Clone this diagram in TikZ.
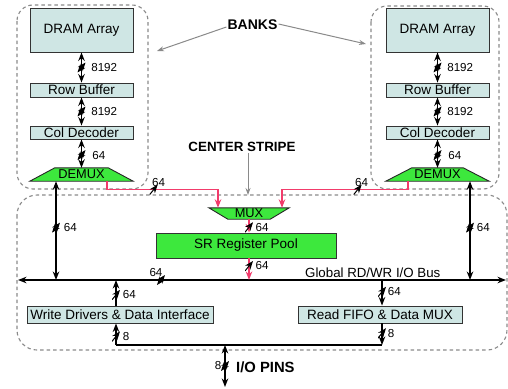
\documentclass[tikz,border=0pt]{standalone}
\usepackage{fontspec}
\setmainfont{Liberation Sans}
\usetikzlibrary{arrows.meta,backgrounds}
\definecolor{boxc}{HTML}{CFE6E4}
\definecolor{grn}{HTML}{3DE83D}
\definecolor{pnk}{HTML}{F23B6B}
\definecolor{dgray}{HTML}{8A8A8A}
\begin{document}
\begin{tikzpicture}[x=1pt,y=-1pt,
  lbox/.style={draw=black!80, line width=0.9pt, fill=boxc, inner sep=0pt, font=\fontsize{13.5}{15}\selectfont},
  gbox/.style={draw=black!80, line width=0.9pt, fill=grn, inner sep=0pt, font=\fontsize{13.5}{15}\selectfont},
  tnode/.style={inner sep=0pt, font=\fontsize{12.8}{14}\selectfont},
  trapfill/.style={draw=black!85, line width=0.9pt, fill=grn},
  bank/.style={draw=dgray, dash pattern=on 3.5pt off 3pt, line width=1.1pt, rounded corners=16pt},
  bw/.style={line width=1.6pt, draw=black},
  dbl/.style={bw, {Stealth[length=8.5pt,width=6.5pt]}-{Stealth[length=8.5pt,width=6.5pt]}},
  one/.style={bw, -{Stealth[length=8.5pt,width=6.5pt]}},
  rarr/.style={draw=pnk, line width=1.4pt, -{Stealth[length=8.5pt,width=6.5pt]}},
  garr/.style={draw=dgray, line width=1pt, -{Stealth[length=7pt,width=5pt]}},
  slsh/.style={inner sep=0pt, minimum width=8pt, minimum height=10pt,
    path picture={\draw[line width=1pt, black] (path picture bounding box.south west) -- (path picture bounding box.north east);}},
  num/.style={font=\fontsize{11.6}{13}\selectfont, inner sep=0pt, anchor=west, text=black},
  big/.style={font=\bfseries\fontsize{14}{16}\selectfont, inner sep=1pt}
]
\useasboundingbox (0,0) rectangle (508,388);

% dashed regions
\draw[bank] (17,5) rectangle (148,189);
\draw[bank] (371,6) rectangle (499,189);
\draw[bank, rounded corners=20pt] (17,195) rectangle (507,350);

% left bank
\node[lbox, minimum width=103pt, minimum height=44pt] (dramL) at (81.5,30) {DRAM Array};
\node[lbox, minimum width=103pt, minimum height=14pt] (rbL) at (81.5,90) {Row Buffer};
\node[lbox, minimum width=103pt, minimum height=13pt] (cdL) at (81.5,132.5) {Col Decoder};
\node[tnode, minimum width=103pt, minimum height=13pt] (dmL) at (81.5,174.5) {DEMUX};

% right bank
\node[lbox, minimum width=103pt, minimum height=44pt] (dramR) at (437.5,30) {DRAM Array};
\node[lbox, minimum width=103pt, minimum height=14pt] (rbR) at (437.5,90) {Row Buffer};
\node[lbox, minimum width=103pt, minimum height=13pt] (cdR) at (437.5,132.5) {Col Decoder};
\node[tnode, minimum width=103pt, minimum height=13pt] (dmR) at (437.5,174.5) {DEMUX};

% center
\node[tnode, minimum width=80pt, minimum height=11pt] (mux) at (249,213.5) {MUX};
\node[gbox, minimum width=180pt, minimum height=25pt] (sr) at (246,245.5) {SR Register Pool};
\node[lbox, minimum width=186pt, minimum height=17pt] (wd) at (120,314.5) {Write Drivers \& Data Interface};
\node[lbox, minimum width=164pt, minimum height=17pt] (rf) at (380,314.5) {Read FIFO \& Data MUX};

\begin{scope}[on background layer]
  \draw[trapfill] (dmL.south west) -- (dmL.south east) -- ([xshift=-25pt]dmL.north east) -- ([xshift=25pt]dmL.north west) -- cycle;
  \draw[trapfill] (dmR.south west) -- (dmR.south east) -- ([xshift=-26pt]dmR.north east) -- ([xshift=26pt]dmR.north west) -- cycle;
  \draw[trapfill] (mux.north west) -- (mux.north east) -- ([xshift=-19pt]mux.south east) -- ([xshift=19pt]mux.south west) -- cycle;
\end{scope}

% labels
\node[big] (bk) at (252.5,25) {BANKS};
\node[big, font=\bfseries\fontsize{13.4}{15}\selectfont] (cs) at (242,147) {CENTER STRIPE};
\node[big, font=\bfseries\fontsize{14.8}{16}\selectfont, anchor=west] (pins) at (235,367) {I/O PINS};

\coordinate (bkL) at (157,51);
\coordinate (bkR) at (366,44);
\coordinate (csT) at (248,195);
\draw[garr] ([yshift=-2pt]bk.west) -- (bkL);
\draw[garr] ([yshift=1pt]bk.east) -- (bkR);
\draw[garr] (cs.south -| csT) -- (csT);

% bank internal arrows
\draw[dbl] (dramL) -- (rbL) node[slsh,pos=.5]{} node[num,pos=.5,xshift=9pt]{8192};
\draw[dbl] (rbL) -- (cdL) node[slsh,pos=.5]{} node[num,pos=.5,xshift=9pt]{8192};
\draw[dbl] (cdL) -- (dmL) node[slsh,pos=.55]{} node[num,pos=.55,xshift=10pt]{64};
\draw[dbl] (dramR) -- (rbR) node[slsh,pos=.5]{} node[num,pos=.5,xshift=9pt]{8192};
\draw[dbl] (rbR) -- (cdR) node[slsh,pos=.5]{} node[num,pos=.5,xshift=9pt]{8192};
\draw[dbl] (cdR) -- (dmR) node[slsh,pos=.55]{} node[num,pos=.55,xshift=10pt]{64};

% global bus
\coordinate (busL) at (18,280);
\coordinate (busR) at (506,280);
\draw[dbl] (busL) -- (busR)
  node[slsh,pos=.293]{} node[num,pos=.293,anchor=south,xshift=-5pt,yshift=3pt]{64}
  node[pos=.727,anchor=south,yshift=1.5pt,inner sep=0pt,font=\fontsize{13.3}{15}\selectfont]{Global RD/WR I/O Bus};

% red paths
\draw[rarr] ([xshift=25.5pt]dmL.south) -- ++(0,8.5) -| ([xshift=-31pt]mux.north)
  node[slsh,pos=.21]{} node[num,pos=.21,anchor=south,xshift=5pt,yshift=2pt]{64};
\draw[rarr] ([xshift=-29.5pt]dmR.south) -- ++(0,8.5) -| ([xshift=33pt]mux.north)
  node[slsh,pos=.2]{} node[num,pos=.2,anchor=south,xshift=4pt,yshift=2pt]{64};
\draw[rarr] (mux.south) -- (mux.south |- sr.north) node[slsh,pos=.6]{} node[num,pos=.6,xshift=6pt]{64};
\draw[rarr] (mux.south |- sr.south) -- (mux.south |- busL) node[slsh,pos=.35]{} node[num,pos=.35,xshift=6pt]{64};

% vertical bank-to-bus arrows
\coordinate (vL) at ([xshift=-25.5pt]dmL.south);
\coordinate (vR) at ([xshift=32.5pt]dmR.south);
\draw[dbl] (vL) -- (vL |- busL) node[slsh,pos=.47]{} node[num,pos=.47,xshift=7pt]{64};
\draw[dbl] (vR) -- (vR |- busL) node[slsh,pos=.47]{} node[num,pos=.47,xshift=6pt]{64};

% write / read paths
\coordinate (wx) at ([xshift=-4pt]wd.north);
\coordinate (wb) at ([xshift=-4pt]wd.south);
\coordinate (rx) at ([xshift=2pt]rf.north);
\coordinate (rb) at ([xshift=2pt]rf.south);
\coordinate (bot) at (225,345);
\coordinate (pin) at (225,387);
\draw[bw] (wb |- bot) -- (rb |- bot);
\draw[one] (wx) -- (wx |- busL) node[slsh,pos=.42]{} node[num,pos=.42,xshift=6pt]{64};
\draw[one] (wb |- bot) -- (wb) node[slsh,pos=.4]{} node[num,pos=.4,xshift=6pt]{8};
\draw[one] (rx |- busL) -- (rx) node[slsh,pos=.46]{} node[num,pos=.46,xshift=5pt]{64};
\draw[one] (rb) -- (rb |- bot) node[slsh,pos=.45]{} node[num,pos=.45,xshift=5pt]{8};
\draw[dbl] (bot) -- (pin) node[slsh,pos=.5]{} node[num,pos=.5,anchor=east,xshift=-3pt]{8};
\end{tikzpicture}
\end{document}
